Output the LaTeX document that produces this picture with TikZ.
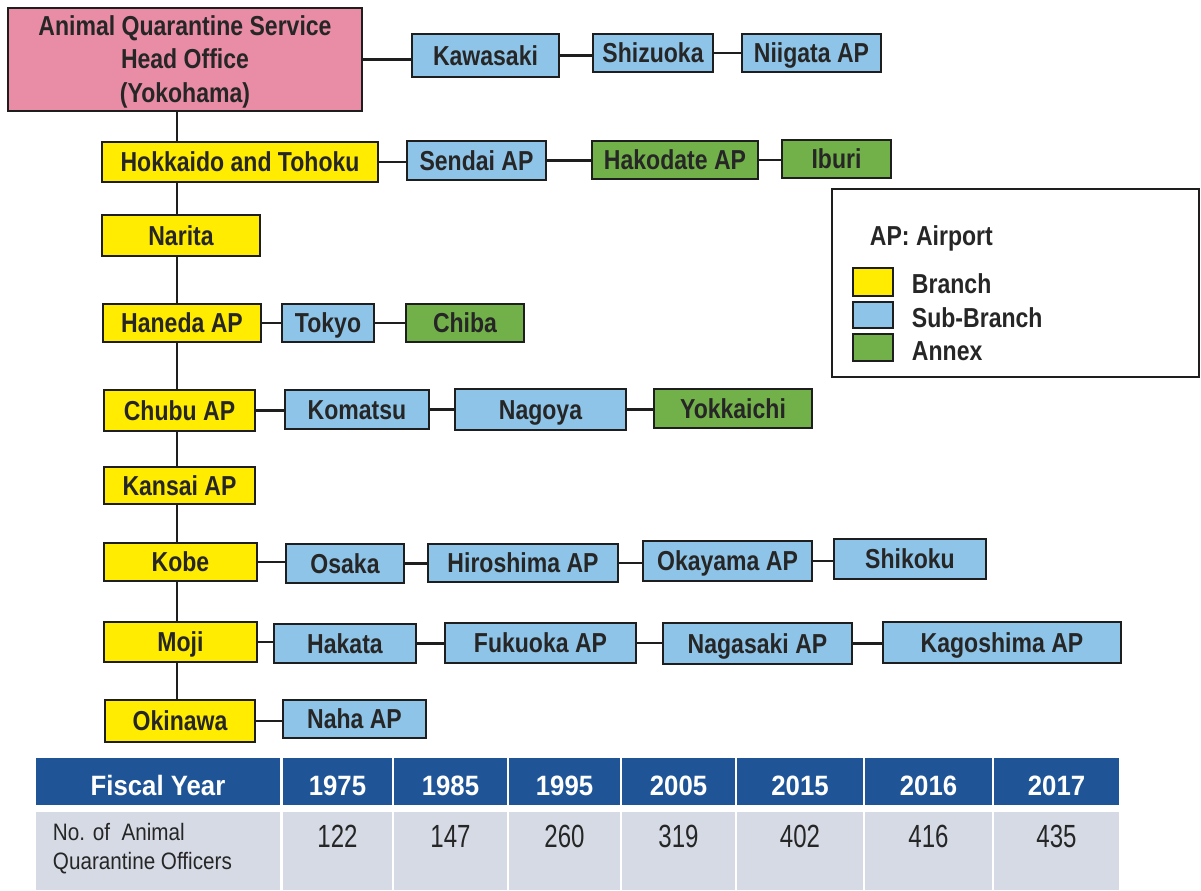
\documentclass[tikz,border=0pt]{standalone}
\usepackage{fontspec}
\setmainfont{Liberation Sans}
\newfontfamily\orgfont{Liberation Sans}[FakeStretch=0.84]
\newfontfamily\yearfont{Liberation Sans}[FakeStretch=0.92]
\newfontfamily\cntfont{Liberation Sans}[FakeStretch=0.75]
\newfontfamily\rowfont{Liberation Sans}[FakeStretch=0.87]

\definecolor{edge}{HTML}{1E1E1E}
\definecolor{ink}{HTML}{262626}
\definecolor{hqpink}{HTML}{E98CA6}
\definecolor{bryellow}{HTML}{FFEC00}
\definecolor{subblue}{HTML}{8EC4E8}
\definecolor{annexgreen}{HTML}{72B04A}
\definecolor{tabhead}{HTML}{1F5597}
\definecolor{tabbody}{HTML}{D5DAE4}

\begin{document}
\begin{tikzpicture}[x=0.025cm, y=-0.025cm,
  box/.style={draw=edge, line width=2pt, inner sep=0pt, text=ink,
    font=\orgfont\bfseries\fontsize{19.5}{23.8}\selectfont},
  cell/.style={box, text height=14pt, text depth=0pt},
  wh/.style 2 args={minimum width=#1*0.025cm, minimum height=#2*0.025cm},
  headoffice/.style={box, fill=hqpink, align=center},
  branch/.style={cell, fill=bryellow},
  subbranch/.style={cell, fill=subblue},
  annex/.style={cell, fill=annexgreen},
  link/.style={draw=edge, line width=1.5pt},
  yearlbl/.style={anchor=base, text=white, font=\yearfont\bfseries\fontsize{19.9}{22}\selectfont},
  cntlbl/.style={anchor=base, text=ink, font=\cntfont\fontsize{22.8}{26}\selectfont}]

  % page size in pixels of the layout grid
  \useasboundingbox (0,0) rectangle (1201,890);

  % Head office and the x of the main trunk
  \node[headoffice, wh={354}{103}] (hq) at (185,59.5)
    {\rule{0pt}{17pt}Animal Quarantine Service\\Head Office\\(Yokohama)};
  \coordinate (trunk) at (177,0);

  % Branches down the trunk
  \node[branch, wh={276}{40}] (hokkaido) at (240,162) {Hokkaido and Tohoku};
  \node[branch, wh={158}{41}] (narita) at (181,235.5) {Narita};
  \node[branch, wh={158}{38}] (haneda) at (182,323) {Haneda AP};
  \node[branch, wh={151}{41}] (chubu) at (179.5,410.5) {Chubu AP};
  \node[branch, wh={151}{37}] (kansai) at (179.5,485.5) {Kansai AP};
  \node[branch, wh={153}{38}] (kobe) at (180.5,562) {Kobe};
  \node[branch, wh={153}{40}] (moji) at (180.5,642) {Moji};
  \node[branch, wh={150}{42}] (okinawa) at (180,721) {Okinawa};

  % Sub-branches and annexes, row by row
  \node[subbranch, wh={147}{43}] (kawasaki) at (485.5,55.5) {Kawasaki};
  \node[subbranch, wh={120}{38}] (shizuoka) at (653,53) {Shizuoka};
  \node[subbranch, wh={139}{38}] (niigata) at (811.5,53) {Niigata AP};

  \node[subbranch, wh={139}{39}] (sendai) at (476.5,160.5) {Sendai AP};
  \node[annex, wh={166}{38}] (hakodate) at (675,160) {Hakodate AP};
  \node[annex, wh={109}{38}] (iburi) at (836.5,159) {Iburi};

  \node[subbranch, wh={92}{38}] (tokyo) at (328,323) {Tokyo};
  \node[annex, wh={118}{38}] (chiba) at (465,323) {Chiba};

  \node[subbranch, wh={144}{39}] (komatsu) at (357,409.5) {Komatsu};
  \node[subbranch, wh={171}{41}] (nagoya) at (540.5,409.5) {Nagoya};
  \node[annex, wh={158}{39}] (yokkaichi) at (733,408.5) {Yokkaichi};

  \node[subbranch, wh={118}{39}] (osaka) at (345,563.5) {Osaka};
  \node[subbranch, wh={190}{38}] (hiroshima) at (523,563) {Hiroshima AP};
  \node[subbranch, wh={169}{40}] (okayama) at (727.5,561) {Okayama AP};
  \node[subbranch, wh={152}{40}] (shikoku) at (910,559) {Shikoku};

  \node[subbranch, wh={142}{39}] (hakata) at (345,643.5) {Hakata};
  \node[subbranch, wh={191}{40}] (fukuoka) at (540.5,643) {Fukuoka AP};
  \node[subbranch, wh={189}{41}] (nagasaki) at (757.5,643.5) {Nagasaki AP};
  \node[subbranch, wh={238}{41}] (kagoshima) at (1002,642.5) {Kagoshima AP};

  \node[subbranch, wh={143}{38}] (naha) at (354.5,719) {Naha AP};

  % Trunk segments between boxes
  \foreach \a/\b in {hq/hokkaido, hokkaido/narita, narita/haneda, haneda/chubu,
                     chubu/kansai, kansai/kobe, kobe/moji, moji/okinawa}
    \draw[link] (\a.south -| trunk) -- (\b.north -| trunk);

  % Horizontal links along each row
  \foreach \a/\b in {hq/kawasaki, kawasaki/shizuoka, shizuoka/niigata,
                     hokkaido/sendai, sendai/hakodate, hakodate/iburi,
                     haneda/tokyo, tokyo/chiba,
                     chubu/komatsu, komatsu/nagoya, nagoya/yokkaichi,
                     kobe/osaka, osaka/hiroshima, hiroshima/okayama, okayama/shikoku,
                     moji/hakata, hakata/fukuoka, fukuoka/nagasaki, nagasaki/kagoshima,
                     okinawa/naha}
    \draw[link] (\a.east) -- (\a.east -| \b.west);

  % Legend
  \draw[draw=edge, line width=1.5pt] (832,189) rectangle (1199,377);
  \node[anchor=base west, text=ink, font=\orgfont\bfseries\fontsize{19.5}{23.8}\selectfont]
    (apnote) at (865,245) {AP: Airport};
  \node[branch, wh={40}{28}] (keybranch) at (873,282) {};
  \node[subbranch, wh={40}{26}] (keysub) at (873,315) {};
  \node[annex, wh={40}{27}] (keyannex) at (873,347.5) {};
  \begin{scope}[every node/.style={anchor=base west, text=ink,
      font=\orgfont\bfseries\fontsize{19.5}{23.8}\selectfont}]
    \node (keybranchtxt) at (907,293) {Branch};
    \node (keysubtxt) at (907,327) {Sub-Branch};
    \node (keyannextxt) at (907,360) {Annex};
  \end{scope}

  % Staff table
  \fill[tabhead] (36,758) rectangle (280,805);
  \fill[tabbody] (36,812) rectangle (280,890);
  \node[yearlbl] (fiscal) at (158,795) {Fiscal Year};
  \node[anchor=base west, align=left, text=ink,
    font=\rowfont\fontsize{16.9}{20.6}\selectfont] (officers) at (48,869)
    {No. of\ \ Animal\\Quarantine Officers};
  \foreach \l/\r/\yr/\n [count=\i] in {283/392/1975/122, 394/507/1985/147,
      509/620/1995/260, 622/735/2005/319, 737/863/2015/402,
      865/992/2016/416, 994/1119/2017/435} {
    \fill[tabhead] (\l,758) rectangle (\r,805);
    \fill[tabbody] (\l,812) rectangle (\r,890);
    \node[yearlbl] (yr\i) at ({(\l+\r)/2},795) {\yr};
    \node[cntlbl] (cnt\i) at ({(\l+\r)/2},847) {\n};
  }
\end{tikzpicture}
\end{document}
